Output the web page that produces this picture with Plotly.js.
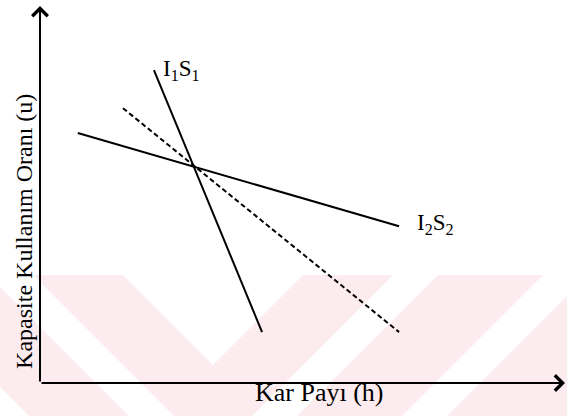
<!DOCTYPE html>
<html><head><meta charset="utf-8">
<script src="https://cdn.plot.ly/plotly-3.0.1.min.js"></script>
<style>html,body{margin:0;padding:0;background:#fff}#chart{width:567px;height:416px}</style>
</head><body><div id="chart"></div>
<script>
// Curve endpoints in diagram units (origin at the axes corner, both axes 0..10)
const i1s1X = [2.17, 4.23];
const i1s1Y = [8.30, 1.35];
const dashedX = [1.58, 6.84];
const dashedY = [7.29, 1.35];
const i2s2X = [0.72, 6.84];
const i2s2Y = [6.63, 4.16];
const axisMax = [10, 10];
const xAxisTitle = 'Kar Payı (h)';
const yAxisTitle = 'Kapasite Kullanım Oranı (u)';
const curveLabels = ['I<sub>1</sub>S<sub>1</sub>', 'I<sub>2</sub>S<sub>2</sub>'];
const labelX = [2.30, 7.14];
const labelY = [8.74, 4.63];

const W = 567, H = 416;
const M = {l: 40, r: 2, t: 6, b: 33, pad: 0};
const PW = W - M.l - M.r, PH = H - M.t - M.b;
const FONT = 'Liberation Serif, Times New Roman, serif';
const INK = '#000';
const PINK = '#fdecef';

// background watermark polygons (pixel coordinates of the figure)
const wm = [
  [[33,275],[123,275],[213,365],[303,275],[393,275],[252,416],[174,416]],
  [[0,287],[129,416],[29,416],[0,387]],
  [[438,275],[543,275],[402,416],[297,416]],
  [[567,296],[567,416],[447,416]]
];
function toPaper(p){ return [(p[0]-M.l)/PW, (H-M.b-p[1])/PH]; }
const shapes = wm.map(poly => ({
  type: 'path', xref: 'paper', yref: 'paper', layer: 'below',
  path: 'M' + poly.map(p => toPaper(p).map(v => v.toFixed(5)).join(',')).join('L') + 'Z',
  fillcolor: PINK, line: {width: 0}
}));

const lineStyle = {color: INK, width: 2};
const traces = [
  {x: i1s1X, y: i1s1Y, mode: 'lines', line: lineStyle, hoverinfo: 'skip', showlegend: false},
  {x: dashedX, y: dashedY, mode: 'lines', line: {color: INK, width: 2, dash: '5px,3px'}, hoverinfo: 'skip', showlegend: false},
  {x: i2s2X, y: i2s2Y, mode: 'lines', line: lineStyle, hoverinfo: 'skip', showlegend: false}
];

const arrowBase = {xref: 'x', yref: 'y', axref: 'x', ayref: 'y', text: '', showarrow: true,
  arrowhead: 4, arrowsize: 1.5, arrowwidth: 2, arrowcolor: INK, standoff: 0, startstandoff: 0};
const annotations = [
  Object.assign({}, arrowBase, {x: 0, y: axisMax[1], ax: 0, ay: 0}),
  Object.assign({}, arrowBase, {x: axisMax[0], y: 0, ax: 0, ay: 0}),
  {xref: 'paper', yref: 'paper', x: (319 - M.l)/PW, y: -9/PH, xanchor: 'center', yanchor: 'middle',
   text: xAxisTitle, showarrow: false, font: {family: FONT, size: 26, color: INK}},
  {xref: 'paper', yref: 'paper', x: (23.4 - M.l)/PW, y: (H - M.b - 231.5)/PH, xanchor: 'center', yanchor: 'middle',
   textangle: -90, text: yAxisTitle, showarrow: false, font: {family: FONT, size: 24, color: INK}}
];
curveLabels.forEach((t, i) => annotations.push({
  xref: 'x', yref: 'y', x: labelX[i], y: labelY[i], xanchor: 'left', yanchor: 'top',
  text: t, showarrow: false, font: {family: FONT, size: 23, color: INK}
}));

const layout = {
  width: W, height: H, margin: M,
  paper_bgcolor: '#fff', plot_bgcolor: 'rgba(0,0,0,0)',
  xaxis: {range: [0, axisMax[0]], visible: false, fixedrange: true},
  yaxis: {range: [0, axisMax[1]], visible: false, fixedrange: true},
  showlegend: false, shapes: shapes, annotations: annotations
};
Plotly.newPlot('chart', traces, layout, {staticPlot: true, displayModeBar: false});
</script>
</body></html>
